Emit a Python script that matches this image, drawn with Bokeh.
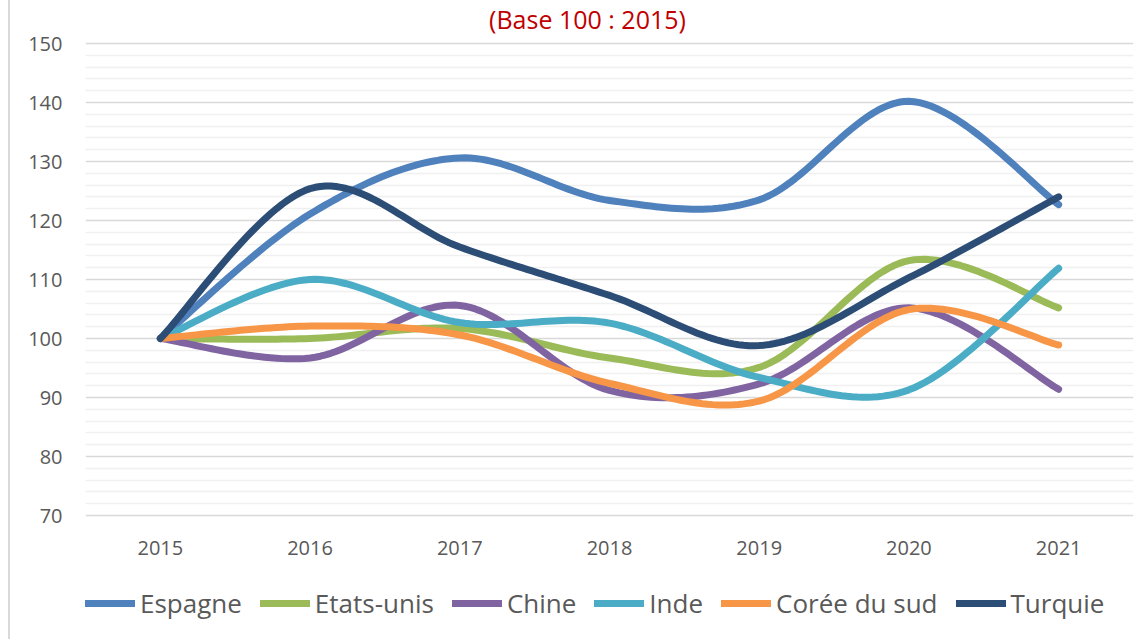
import numpy as np
from bokeh.plotting import figure
from bokeh.models import FixedTicker, Legend, LegendItem, Range1d, Label
from bokeh.embed import file_html
from bokeh.resources import INLINE

# ---- data ----
years = [2015, 2016, 2017, 2018, 2019, 2020, 2021]
espagne = [100, 121.1, 130.6, 123.4, 123.5, 140.2, 122.7]
etats_unis = [100, 100.0, 101.7, 96.7, 95.1, 113.2, 105.2]
chine = [100, 96.7, 105.6, 91.2, 92.3, 105.2, 91.4]
inde = [100, 110.0, 102.7, 102.6, 93.4, 91.3, 111.9]
coree = [100, 102.1, 100.6, 92.4, 89.4, 104.9, 98.9]
turquie = [100, 125.4, 115.5, 107.3, 98.8, 110.3, 124.0]

series_names = ["Espagne", "Etats-unis", "Chine", "Inde", "Corée du sud", "Turquie"]
series_values = [espagne, etats_unis, chine, inde, coree, turquie]
series_colors = ["#4F81BD", "#9BBB59", "#8064A2", "#4BACC6", "#F79646", "#2C4D75"]

y_major_ticks = [70, 80, 90, 100, 110, 120, 130, 140, 150]
y_minor_ticks = [v for v in range(70, 151, 2) if v % 10]

title_text = "(Base 100 : 2015)"

FONT = "Open Sans"
TXT = "#595959"

# layout: plot area spans 70..150 over 472px (150 at 43px from top, 70 at 124px from bottom);
# the frame covers the whole canvas height so the title and legend can live inside it
PX_PER_UNIT = 472 / 80.0
Y_TOP = 150 + 43 / PX_PER_UNIT
Y_BOTTOM = 70 - 124 / PX_PER_UNIT
PX_PER_YEAR = 1048 / 7.0
TITLE_X = 2014.5 + 502 / PX_PER_YEAR
TITLE_Y = 150 + 42 / PX_PER_UNIT


def smooth(xs, ys, n=30):
    """Catmull-Rom style Bezier smoothing (like Excel's smoothed lines)."""
    P = np.column_stack([np.asarray(xs, float), np.asarray(ys, float)])
    Pe = np.vstack([P[0], P, P[-1]])
    t = np.linspace(0, 1, n)[:, None]
    out = []
    for i in range(len(P) - 1):
        p0 = P[i]
        p3 = P[i + 1]
        c1 = p0 + (Pe[i + 2] - Pe[i]) / 6.0
        c2 = p3 - (Pe[i + 3] - Pe[i + 1]) / 6.0
        seg = ((1 - t) ** 3) * p0 + 3 * ((1 - t) ** 2) * t * c1 + 3 * (1 - t) * t ** 2 * c2 + t ** 3 * p3
        out.append(seg if i == 0 else seg[1:])
    arr = np.vstack(out)
    return arr[:, 0], arr[:, 1]


p = figure(
    width=1138, height=639,
    x_range=Range1d(2014.5, 2021.5), y_range=Range1d(Y_BOTTOM, Y_TOP),
    output_backend="svg", toolbar_location=None,
    min_border_left=75, min_border_right=15, min_border_top=0, min_border_bottom=0,
    background_fill_color="white", border_fill_color="white",
)
p.styles = {"margin-left": "8px", "border-left": "2px solid #D9D9D9"}
p.outline_line_color = None

# axes
p.xaxis.ticker = FixedTicker(ticks=years)
p.xaxis.fixed_location = 70
p.xaxis.axis_line_color = None
p.xaxis.major_tick_line_color = None
p.xaxis.minor_tick_line_color = None
p.xaxis.major_label_standoff = 19
p.xaxis.major_label_text_font = FONT
p.xaxis.major_label_text_font_size = "20px"
p.xaxis.major_label_text_color = TXT

yt = FixedTicker(ticks=y_major_ticks, minor_ticks=y_minor_ticks)
p.yaxis.ticker = yt
p.yaxis.axis_line_color = None
p.yaxis.major_tick_line_color = None
p.yaxis.minor_tick_line_color = None
p.yaxis.major_label_standoff = 17
p.yaxis.major_label_text_font = FONT
p.yaxis.major_label_text_font_size = "20px"
p.yaxis.major_label_text_color = TXT

p.xgrid.visible = False
p.ygrid.ticker = yt
p.ygrid.grid_line_color = "#D9D9D9"
p.ygrid.grid_line_width = 1.5
p.ygrid.minor_grid_line_color = "#F0F0F0"
p.ygrid.minor_grid_line_width = 1.5

items = []
for name, vals, col in zip(series_names, series_values, series_colors):
    sx, sy = smooth(years, vals)
    r = p.line(sx, sy, line_color=col, line_width=7, line_cap="round", line_join="round")
    items.append(LegendItem(label=name, renderers=[r]))

legend = Legend(
    items=items, orientation="horizontal", location=(0, 18),
    label_text_font=FONT, label_text_font_size="26px", label_text_color=TXT,
    glyph_width=50, glyph_height=26, label_standoff=5, spacing=18,
    border_line_color=None, background_fill_alpha=0, padding=0, margin=0,
)
p.add_layout(legend, "center")

title = Label(
    x=TITLE_X, y=TITLE_Y, text=title_text, text_align="center", text_baseline="top",
    text_font=FONT, text_font_size="25px", text_color="#C00000",
)
p.add_layout(title)

open("out.html", "w").write(file_html(p, INLINE))
